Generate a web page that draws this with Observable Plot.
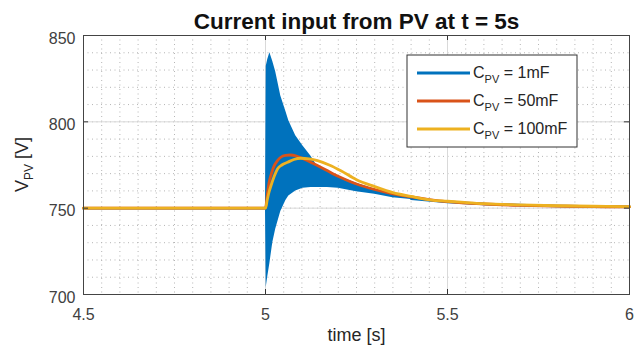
<!DOCTYPE html>
<html><head><meta charset="utf-8">
<script src="https://cdn.jsdelivr.net/npm/d3@7"></script>
<script src="https://cdn.jsdelivr.net/npm/@observablehq/plot@0.6"></script>
<style>
body{margin:0;background:#fff;font-family:"Liberation Sans",Arial,sans-serif}
#chart{position:relative;width:635px;height:358px}
</style>
</head><body><div id="chart"></div>
<script>
// ---- text ----
const titleText = "Current input from PV at t = 5s";
const xLabelText = "time [s]";
const yTicks = [700, 750, 800, 850];
const xTicks = [4.5, 5, 5.5, 6];
const xTickLabels = ["4.5", "5", "5.5", "6"];
const legendValues = ["1mF", "50mF", "100mF"];
const colors = ["#0072BD", "#D95319", "#EDB120"];

// ---- C_PV = 1mF : oscillation envelope (dense oscillation drawn as a band) ----
const blueT  = [5.0, 5.002, 5.006, 5.012, 5.02, 5.028, 5.042, 5.056, 5.064, 5.083, 5.103, 5.125, 5.143, 5.17, 5.2, 5.25, 5.3, 5.35, 5.4];
const blueHi = [750, 832, 836, 840, 835, 829, 815, 806, 800.6, 792, 786, 780, 774, 772, 768.5, 764.5, 761, 758.5, 756.5];
const blueLo = [750, 704, 710, 718, 730, 737.8, 748, 754.5, 757, 760, 761.5, 762, 762, 762, 761.5, 759.5, 758, 756, 755];
// 1mF trace outside the oscillation band (before the step, and the settled tail)
const bluePreT = [4.5, 5.0];
const bluePreV = [750, 750];
const blueTailT = [5.4, 5.5, 5.6, 5.8, 6.0];
const blueTailV = [755.5, 753.6, 752.4, 751.3, 750.8];

// ---- C_PV = 50mF ----
const orangeT = [4.5, 5.0, 5.005, 5.01, 5.017, 5.024, 5.033, 5.042, 5.055, 5.068, 5.085, 5.1, 5.116, 5.14, 5.161, 5.185, 5.207, 5.25, 5.3, 5.35, 5.4, 5.45, 5.5, 5.6, 5.7, 5.8, 5.9, 6.0];
const orangeV = [750, 750, 758, 765, 770.5, 774.6, 777.5, 779.5, 780.6, 780.8, 780.2, 779, 777.5, 775, 772.7, 770, 767.8, 764, 760.8, 758.3, 756.5, 755, 753.8, 752.4, 751.6, 751.2, 750.9, 750.7];

// ---- C_PV = 100mF ----
const yellowT = [4.5, 5.0, 5.005, 5.01, 5.015, 5.024, 5.033, 5.045, 5.061, 5.078, 5.097, 5.12, 5.143, 5.175, 5.207, 5.25, 5.3, 5.35, 5.4, 5.455, 5.5, 5.547, 5.6, 5.7, 5.8, 5.9, 6.0];
const yellowV = [750, 750, 755, 759.5, 763, 768.5, 772.7, 775, 776.6, 778.2, 778.9, 778.5, 777.5, 775, 771.7, 766.5, 762.5, 759, 756.8, 754.7, 754, 753.3, 752.6, 751.9, 751.4, 751.1, 750.9];

const band = blueT.map((t, i) => ({t, lo: blueLo[i], hi: blueHi[i]}));
const blueLine = [
  ...bluePreT.map((t, i) => ({t, v: bluePreV[i], seg: "pre"})),
  ...blueTailT.map((t, i) => ({t, v: blueTailV[i], seg: "tail"}))
];
const orange = orangeT.map((t, i) => ({t, v: orangeV[i]}));
const yellow = yellowT.map((t, i) => ({t, v: yellowV[i]}));

const xMinor = d3.range(0, 31).map(i => 4.5 + i * 0.05);
const yMinor = d3.range(0, 16).map(i => 700 + i * 10);
const xInner = xTicks.slice(1, -1);
const yInner = yTicks.slice(1, -1);

const W = 635, H = 358, mL = 83, mR = 6, mT = 35, mB = 64;
const tickLenX = 5 * 1.5 / (W - mL - mR);
const tickLenY = 5 * 150 / (H - mT - mB);

const plot = Plot.plot({
  width: W, height: H,
  marginLeft: mL, marginRight: mR, marginTop: mT, marginBottom: mB,
  style: {fontFamily: '"Liberation Sans", Arial, sans-serif', background: "#fff", overflow: "visible"},
  x: {domain: [4.5, 6]},
  y: {domain: [700, 850]},
  marks: [
    Plot.gridX(xMinor, {stroke: "#b5b5b5", strokeOpacity: 1, strokeDasharray: "1,3.5"}),
    Plot.gridY(yMinor, {stroke: "#b5b5b5", strokeOpacity: 1, strokeDasharray: "1,3.5"}),
    Plot.gridX(xInner, {stroke: "#d9d9d9", strokeOpacity: 1}),
    Plot.gridY(yInner, {stroke: "#d9d9d9", strokeOpacity: 1}),
    Plot.areaY(band, {x: "t", y1: "lo", y2: "hi", fill: colors[0]}),
    Plot.line(blueLine, {x: "t", y: "v", z: "seg", stroke: colors[0], strokeWidth: 2.5}),
    Plot.line(orange, {x: "t", y: "v", stroke: colors[1], strokeWidth: 2.8, curve: "monotone-x"}),
    Plot.line(yellow, {x: "t", y: "v", stroke: colors[2], strokeWidth: 2.8, curve: "monotone-x"}),
    Plot.ruleX(xInner, {y1: 700, y2: 700 + tickLenY, stroke: "#333"}),
    Plot.ruleX(xInner, {y1: 850, y2: 850 - tickLenY, stroke: "#333"}),
    Plot.ruleY(yInner, {x1: 4.5, x2: 4.5 + tickLenX, stroke: "#333"}),
    Plot.ruleY(yInner, {x1: 6, x2: 6 - tickLenX, stroke: "#333"}),
    Plot.frame({stroke: "#444", strokeWidth: 1}),
    Plot.axisX({ticks: xTicks, tickFormat: (d, i) => xTickLabels[i], tickSize: 0, tickPadding: 14, fontSize: 16, color: "#404040", label: null}),
    Plot.axisY({ticks: yTicks, tickSize: 0, tickPadding: 8, fontSize: 16, dy: 3, color: "#404040", label: null}),
    Plot.text([titleText], {frameAnchor: "top", lineAnchor: "bottom", dy: -7, fontSize: 22.5, fontWeight: "bold", fill: "#111"}),
    Plot.text([xLabelText], {frameAnchor: "bottom", dy: 46, fontSize: 18, fill: "#262626"})
  ]
});

const svg = d3.select(plot);
const ys = plot.scale("y");

// y axis label with subscript
const yl = svg.append("text")
  .attr("transform", `translate(28,${(ys.apply(700) + ys.apply(850)) / 2}) rotate(-90)`)
  .attr("text-anchor", "middle")
  .attr("font-size", 18).attr("fill", "#262626");
yl.append("tspan").text("V");
yl.append("tspan").attr("font-size", 12).attr("dy", 5).text("PV");
yl.append("tspan").attr("dy", -5).text(" [V]");

// legend
const lg = svg.append("g").attr("transform", "translate(407,55)").attr("text-anchor", "start");
lg.append("rect").attr("width", 170).attr("height", 92).attr("fill", "#fff").attr("stroke", "#333").attr("stroke-width", 1);
legendValues.forEach((v, i) => {
  const y = 18 + i * 28;
  lg.append("line").attr("x1", 10).attr("x2", 63).attr("y1", y).attr("y2", y)
    .attr("stroke", colors[i]).attr("stroke-width", 3);
  const t = lg.append("text").attr("x", 66).attr("y", y + 5).attr("font-size", 16).attr("fill", "#262626").attr("text-anchor", "start");
  t.append("tspan").text("C");
  t.append("tspan").attr("font-size", 11).attr("dy", 5).text("PV");
  t.append("tspan").attr("dy", -5).text(" = " + v);
});

document.getElementById("chart").appendChild(plot);
</script>
</body></html>
